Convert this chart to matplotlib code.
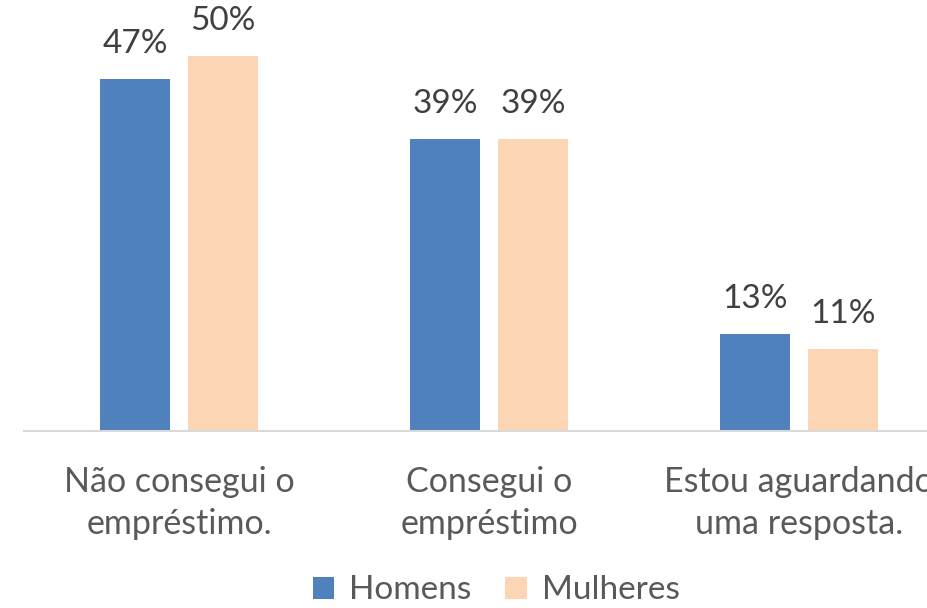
import matplotlib
matplotlib.use("Agg")
import matplotlib.pyplot as plt
import numpy as np

categories = ["Não consegui o\nempréstimo.", "Consegui o\nempréstimo", "Estou aguardando\numa resposta."]
series_names = ["Homens", "Mulheres"]
homens = [47, 39, 13]
mulheres = [50, 39, 11]
colors = ["#4F81BD", "#FCD5B5"]

plt.rcParams['font.family'] = ['Lato', 'DejaVu Sans']

W, H = 927, 608
fig = plt.figure(figsize=(W/100, H/100), dpi=100)
px_per_unit = 7.5
top_val = 55
base_y = 431
ax = fig.add_axes([24/W, (H-base_y)/H, 930/W, top_val*px_per_unit/H])

x = np.arange(len(categories))
bw = 70/310
off = 44/310
for vals, dx, c, name in [(homens, -off, colors[0], series_names[0]), (mulheres, off, colors[1], series_names[1])]:
    bars = ax.bar(x + dx, vals, width=bw, color=c, label=name)
    for b, v in zip(bars, vals):
        ax.text(b.get_x() + b.get_width()/2, v + 2.6, f"{v}%", ha='center', va='bottom',
                fontsize=24, color='#404040')

ax.set_xlim(-0.5, 2.5)
ax.set_ylim(0, top_val)
for s in ['top', 'right', 'left']:
    ax.spines[s].set_visible(False)
ax.spines['bottom'].set_color('#D9D9D9')
ax.spines['bottom'].set_linewidth(1.5)
ax.set_yticks([])
ax.set_xticks(x)
ax.set_xticklabels(categories, fontsize=24.5, color='#595959', linespacing=1.4)
ax.tick_params(axis='x', length=0, pad=25)

fig.legend(loc='lower center', bbox_to_anchor=(496/W, -0.045), ncol=2, frameon=False,
           fontsize=24, labelcolor='#595959', handlelength=0.65, handleheight=0.65,
           handletextpad=0.45, columnspacing=1.0)

fig.savefig("out.png", dpi=100)
